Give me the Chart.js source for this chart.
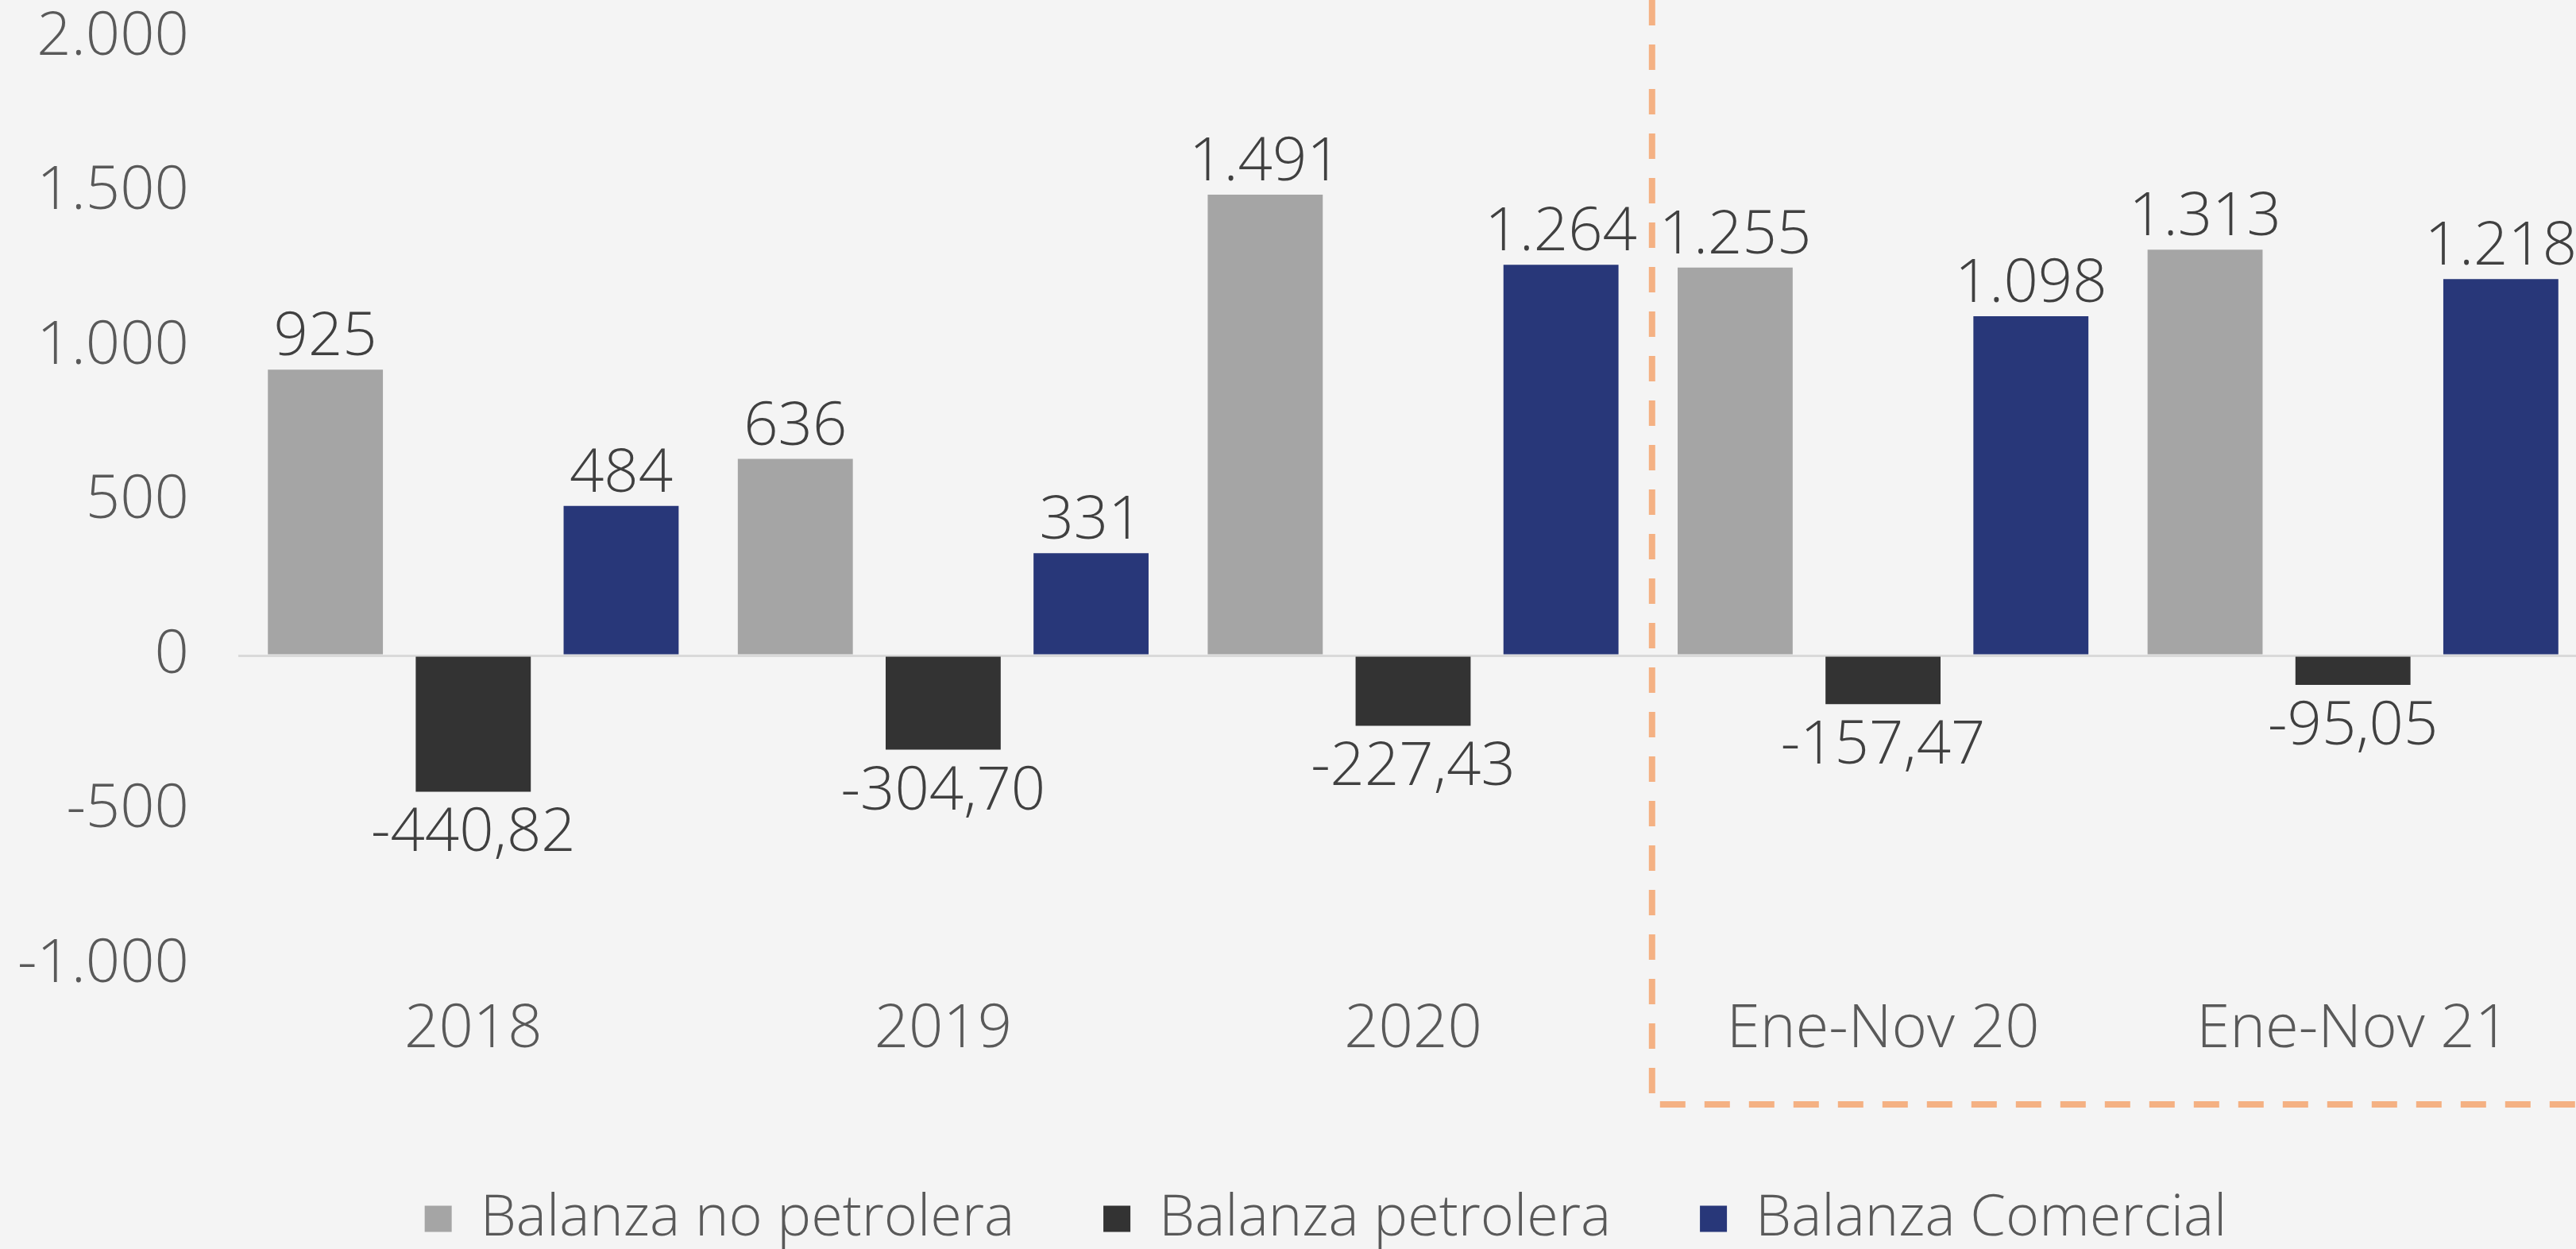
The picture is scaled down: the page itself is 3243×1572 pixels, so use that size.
<!DOCTYPE html>
<html>
<head>
<meta charset="utf-8">
<script src="https://cdn.jsdelivr.net/npm/chart.js@4.4.1/dist/chart.umd.min.js"></script>
<style>
html,body{margin:0;padding:0;background:#F4F4F4;overflow:hidden;width:3243px;height:1572px}
#wrap{width:3258px;height:1572px;position:relative}
</style>
</head>
<body>
<div id="wrap"><canvas id="c"></canvas></div>
<script>
// ---- data ----
const categories = ['2018', '2019', '2020', 'Ene-Nov 20', 'Ene-Nov 21'];
const seriesNames = ['Balanza no petrolera', 'Balanza petrolera', 'Balanza Comercial'];
const balanzaNoPetrolera = [925, 636, 1491, 1255, 1313];
const balanzaPetrolera = [-440.82, -304.70, -227.43, -157.47, -95.05];
const balanzaComercial = [484, 331, 1264, 1098, 1218];
const yTickValues = [-1000, -500, 0, 500, 1000, 1500, 2000];

const FONT = "'Open Sans', Lato, sans-serif";
const colors = ['#A5A5A5', '#333333', '#283779'];

function groupThousands(v) {
  const s = String(Math.abs(Math.round(v))).replace(/\B(?=(\d{3})+(?!\d))/g, '.');
  return (v < 0 ? '-' : '') + s;
}
function dataLabel(v) {
  if (v < 0) return '-' + Math.abs(v).toFixed(2).replace('.', ',');
  return groupThousands(v);
}

const labelPlugin = {
  id: 'barLabels',
  afterDatasetsDraw(chart) {
    const ctx = chart.ctx;
    ctx.save();
    ctx.font = "300 76px " + FONT;
    ctx.fillStyle = '#404040';
    ctx.textAlign = 'center';
    ctx.textBaseline = 'alphabetic';
    chart.data.datasets.forEach((ds, di) => {
      const meta = chart.getDatasetMeta(di);
      meta.data.forEach((el, i) => {
        const v = ds.data[i];
        const txt = dataLabel(v);
        if (v >= 0) ctx.fillText(txt, el.x, el.y - 18);
        else ctx.fillText(txt, el.x, el.y + 75);
      });
    });
    ctx.restore();
  }
};

const boxPlugin = {
  id: 'dashedBox',
  afterDraw(chart) {
    const ctx = chart.ctx;
    const xs = chart.scales.x;
    const x0 = xs.getPixelForValue(2.5) + 5;
    const yB = chart.chartArea.bottom + 176;
    ctx.save();
    ctx.strokeStyle = '#F4B183';
    ctx.lineWidth = 8;
    ctx.setLineDash([32, 24]);
    ctx.beginPath();
    ctx.moveTo(x0, 0);
    ctx.lineTo(x0, yB);
    ctx.lineTo(chart.width, yB);
    ctx.stroke();
    ctx.restore();
  }
};

// shift the legend block so it is centred like the reference
const legendShift = {
  id: 'legendShift',
  afterLayout(chart) {
    if (chart.legend) { chart.legend.left += 80; }
  }
};

new Chart(document.getElementById('c'), {
  type: 'bar',
  data: {
    labels: categories,
    datasets: [
      { label: seriesNames[0], data: balanzaNoPetrolera, backgroundColor: colors[0] },
      { label: seriesNames[1], data: balanzaPetrolera, backgroundColor: colors[1] },
      { label: seriesNames[2], data: balanzaComercial, backgroundColor: colors[2] }
    ]
  },
  options: {
    responsive: true,
    maintainAspectRatio: false,
    devicePixelRatio: 1,
    animation: false,
    layout: { autoPadding: false, padding: { top: 47, left: 0, right: 0, bottom: -8 } },
    datasets: { bar: { categoryPercentage: 0.944, barPercentage: 0.778, borderWidth: 0 } },
    scales: {
      x: {
        grid: { display: false, drawTicks: false },
        border: { display: false },
        ticks: { color: '#595959', font: { family: FONT, size: 76, weight: '300' }, padding: 37, maxRotation: 0, autoSkip: false },
        afterFit(s) { s.height = 172; s.paddingLeft = 0; s.paddingRight = 0; }
      },
      y: {
        min: yTickValues[0],
        max: yTickValues[yTickValues.length - 1],
        afterBuildTicks(s) { s.ticks = yTickValues.map(v => ({ value: v })); },
        grid: {
          drawTicks: false,
          color: c => (c.tick && c.tick.value === 0 ? '#D9D9D9' : 'rgba(0,0,0,0)'),
          lineWidth: 3
        },
        border: { display: false },
        ticks: {
          color: '#595959',
          font: { family: FONT, size: 76, weight: '300' },
          padding: 62,
          callback: v => groupThousands(v)
        },
        afterFit(s) { s.width = 300; s.paddingTop = 0; s.paddingBottom = 0; }
      }
    },
    plugins: {
      legend: {
        position: 'bottom',
        labels: {
          color: '#595959',
          font: { family: FONT, size: 72, weight: '300' },
          boxWidth: 34,
          boxHeight: 33,
          padding: 112
        }
      },
      tooltip: { enabled: false }
    }
  },
  plugins: [labelPlugin, boxPlugin, legendShift]
});
</script>
</body>
</html>
